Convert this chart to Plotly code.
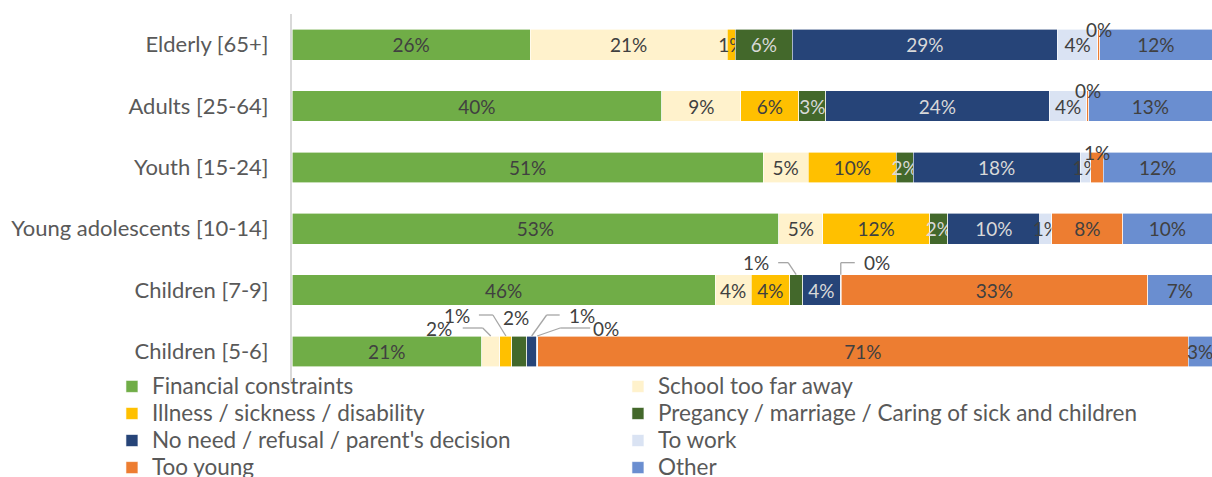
import plotly.graph_objects as go

categories = ["Elderly [65+]", "Adults [25-64]", "Youth [15-24]",
              "Young adolescents [10-14]", "Children [7-9]", "Children [5-6]"]

series_names = ["Financial constraints", "School too far away",
                "Illness / sickness / disability",
                "Pregancy / marriage / Caring of sick and children",
                "No need / refusal / parent's decision", "To work",
                "Too young", "Other"]

financial = [25.9, 40.2, 51.2, 52.9, 46.0, 20.6]
too_far = [21.4, 8.6, 4.9, 4.8, 3.9, 2.0]
illness = [0.9, 6.3, 9.6, 11.6, 4.2, 1.3]
pregnancy = [6.2, 2.9, 1.8, 2.0, 1.4, 1.6]
no_need = [28.8, 24.3, 18.2, 10.0, 4.1, 1.1]
to_work = [4.4, 4.1, 1.1, 1.3, 0.1, 0.1]
too_young = [0.2, 0.2, 1.4, 7.7, 33.3, 70.7]
other = [12.2, 13.4, 11.8, 9.7, 7.0, 2.6]

series_values = [financial, too_far, illness, pregnancy, no_need, to_work, too_young, other]
colors = ["#70AD47", "#FFF2CC", "#FFC000", "#43682B", "#264478", "#DAE3F3", "#ED7D31", "#6A8ED0"]
text_colors = ["#404040", "#404040", "#404040", "#D9D9D9", "#D9D9D9", "#404040", "#404040", "#404040"]
# legend column for each series (left column / right column)
legend_ids = ["legend", "legend2", "legend", "legend2", "legend", "legend2", "legend", "legend2"]

# labels drawn as callouts instead of inside the bar: (series index, category index, style)
callouts = [
    (6, 0, "top"), (6, 1, "top"), (6, 2, "top"),
    (3, 4, "left_hi"), (5, 4, "right_hi"),
    (1, 5, "left_lo"), (2, 5, "left_hi2"), (3, 5, "above"),
    (4, 5, "right_hi2"), (5, 5, "right_lo"),
]

FONT = "Lato"
LABEL_SIZE = 19
TICK_SIZE = 22
LEGEND_ROW_SIZE = 18.5
LEGEND_TEXT_SIZE = 22.5

fig = go.Figure()
hidden = {(s, c) for s, c, _ in callouts}
for si, (name, vals) in enumerate(zip(series_names, series_values)):
    texts = ["" if (si, ci) in hidden else f"{round(v)}%" for ci, v in enumerate(vals)]
    fig.add_trace(go.Bar(
        y=categories, x=vals,
        name=f"<span style='font-size:{LEGEND_TEXT_SIZE}px'>{name}</span>",
        legend=legend_ids[si],
        orientation="h",
        marker=dict(color=colors[si], line=dict(color="white", width=0.6)),
        text=texts, textposition="inside", insidetextanchor="middle",
        constraintext="none", textangle=0,
        textfont=dict(family=FONT, size=LABEL_SIZE, color=text_colors[si]),
        hoverinfo="skip",
    ))

# pixel-to-data conversion for leader lines
PX_X = 100 / 920.0
PX_Y = 1 / 61.33

# leader-line geometry (pixel offsets from the top-centre of the segment) and label gap
leader_styles = {
    "left_hi": ([(0, 0), (-8, 12), (-18, 12)], 7),
    "right_hi": ([(0, 0), (0, 12), (14, 12)], 7),
    "left_lo": ([(0, 0), (-8, 8), (-28, 8)], 9),
    "left_hi2": ([(0, 0), (-13, 21), (-27, 21)], 7),
    "right_hi2": ([(0, 0), (15, 21), (28, 21)], 7),
    "right_lo": ([(0, 0), (23, 8), (53, 8)], 1),
}

shapes = []
annotations = []
for si, ci, style in callouts:
    start = sum(series_values[k][ci] for k in range(si))
    val = series_values[si][ci]
    xc = start + val / 2
    ytop = ci - 0.25
    label = f"{round(val)}%"
    fnt = dict(family=FONT, size=LABEL_SIZE, color="#404040")
    if style == "top":
        annotations.append(dict(x=xc, y=ytop, text=label, showarrow=False,
                                xanchor="center", yanchor="middle", font=fnt))
        continue
    if style == "above":
        annotations.append(dict(x=xc - 3 * PX_X, y=ytop - 19 * PX_Y, text=label, showarrow=False,
                                xanchor="center", yanchor="middle", font=fnt))
        continue
    pts, gap = leader_styles[style]
    for (ax0, ay0), (ax1, ay1) in zip(pts[:-1], pts[1:]):
        shapes.append(dict(type="line", xref="x", yref="y",
                           x0=xc + ax0 * PX_X, y0=ytop - ay0 * PX_Y,
                           x1=xc + ax1 * PX_X, y1=ytop - ay1 * PX_Y,
                           line=dict(color="#A6A6A6", width=1.3)))
    ex, ey = pts[-1]
    right = ex > 0
    annotations.append(dict(x=xc + (ex + (gap if right else -gap)) * PX_X, y=ytop - ey * PX_Y,
                            text=label, showarrow=False,
                            xanchor="left" if right else "right", yanchor="middle", font=fnt))

legend_common = dict(orientation="v", yanchor="top", xanchor="left", traceorder="normal",
                     font=dict(family=FONT, size=LEGEND_ROW_SIZE, color="#595959"),
                     bgcolor="rgba(0,0,0,0)", tracegroupgap=0, itemclick=False,
                     itemdoubleclick=False)

fig.update_layout(
    barmode="stack", bargap=0.5,
    width=1212, height=477,
    margin=dict(l=292, r=0, t=14, b=95, autoexpand=False),
    paper_bgcolor="white", plot_bgcolor="white",
    font=dict(family=FONT, color="#595959"),
    xaxis=dict(range=[0, 100], visible=False, fixedrange=True),
    yaxis=dict(categoryorder="array", categoryarray=categories, autorange="reversed",
               showline=True, linecolor="#D9D9D9", linewidth=2, ticks="",
               ticklabelstandoff=17, automargin=False, fixedrange=True,
               tickfont=dict(family=FONT, size=TICK_SIZE, color="#595959"),
               showgrid=False, zeroline=False),
    showlegend=True,
    legend=dict(x=-0.1957, y=0.0383, **legend_common),
    legend2=dict(x=0.3543, y=0.0383, **legend_common),
    shapes=shapes, annotations=annotations,
)

fig.write_html("out.html", config={"displayModeBar": False},
               post_script="document.body.style.margin='0';document.body.style.overflow='hidden';")
